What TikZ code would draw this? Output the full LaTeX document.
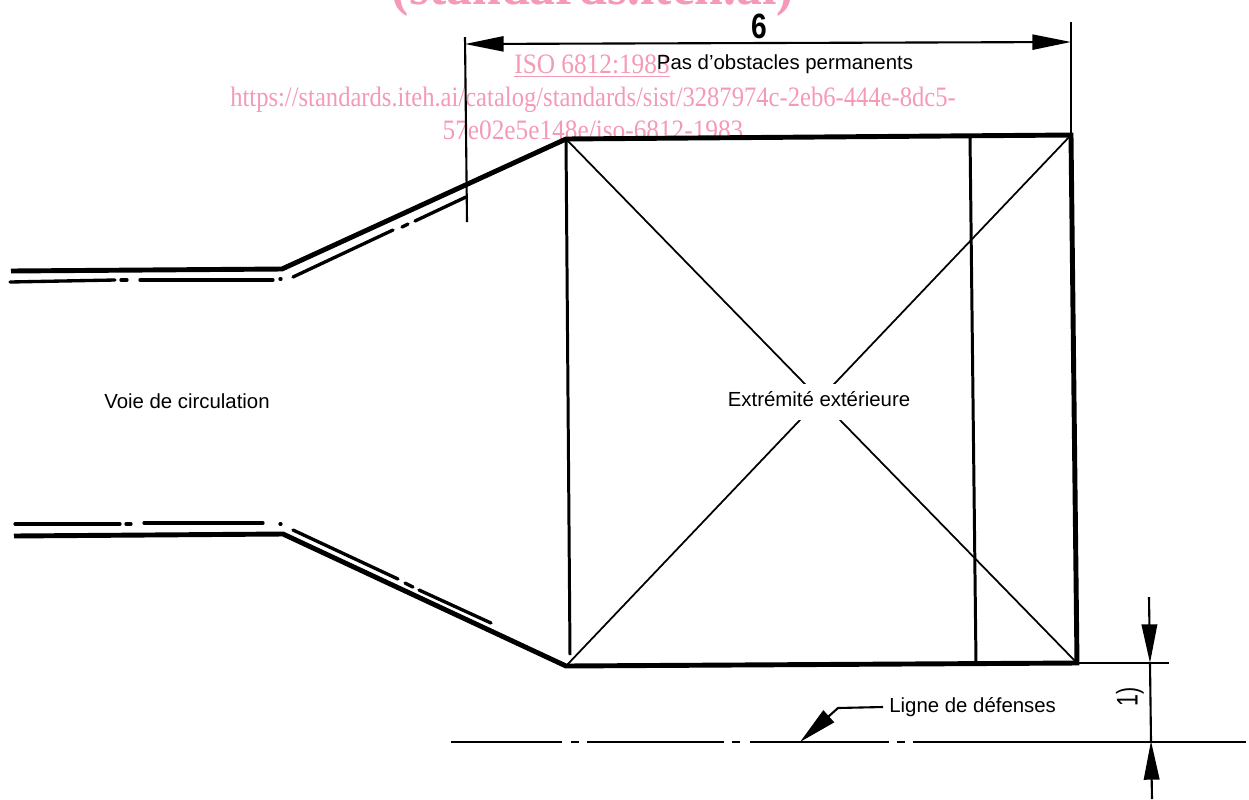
\documentclass[tikz,border=0pt]{standalone}
\usepackage{fontspec}
\setmainfont{Liberation Sans}
\newfontfamily\markfont{Liberation Serif}
\usetikzlibrary{arrows.meta}
\definecolor{markpink}{RGB}{244,154,181}

\begin{document}
\begin{tikzpicture}[x=0.02cm,y=-0.02cm]
      \tikzstyle{heavy}=[line width=2.8pt,line join=miter]
      \tikzstyle{medium}=[line width=1.7pt]
      \tikzstyle{fine}=[line width=1.0pt]
      \tikzstyle{offsetline}=[line width=1.9pt,line cap=round]
      \tikzstyle{axisline}=[line width=1.3pt]
      \tikzstyle{refline}=[line width=1.2pt]
      \tikzstyle{arg}=[inner sep=0pt,font=\fontsize{11.6pt}{13pt}\selectfont]
      \tikzstyle{wmark}=[inner sep=0pt,text=markpink,font=\markfont\fontsize{16pt}{19pt}\selectfont]
      \tikzset{
        dimboth/.style={{Triangle[length=22pt,width=8.6pt]}-{Triangle[length=22pt,width=8.6pt]}},
        dimend/.style={-{Triangle[length=22pt,width=8.8pt]}},
        leader/.style={-{Triangle[length=22pt,width=9pt]}}
      }

      \useasboundingbox (0,0) rectangle (1249,799);
      \clip (0,0) rectangle (1249,799);

      % watermark
      \node[wmark,font=\markfont\bfseries\fontsize{32pt}{38pt}\selectfont,xscale=.92] (wmtitle) at (593,-9) {(standards.iteh.ai)};
      \node[wmark,xscale=.9] (wmiso) at (592,66) {\underline{ISO 6812:1983}};
      \node[wmark,xscale=.875] (wmurl) at (593,100) {https://standards.iteh.ai/catalog/standards/sist/3287974c-2eb6-444e-8dc5-};
      \node[wmark,xscale=.9] (wmiso2) at (593,130) {57e02e5e148e/iso-6812-1983};

      \coordinate (tl0) at (11,271);
      \coordinate (tl1) at (282,269);
      \coordinate (tl2) at (566,139);
      \coordinate (tr) at (1071,135);
      \coordinate (br) at (1077,663);
      \coordinate (bl2) at (566,666);
      \coordinate (bl1) at (283,534);
      \coordinate (bl0) at (14,536);
      \coordinate (m1) at (970,135);
      \coordinate (m2) at (976,663);

      % inner lines
      \path[medium]
      (tl2) edge (570,655)
      (m1) edge (m2);

      \path[fine]
      (tl2) edge (br)
      (bl2) edge (tr);
      \node[arg,fill=white,anchor=base,inner xsep=3pt,inner ysep=4pt,text depth=4pt] (ext) at (819,406) {Extrémité extérieure};

      % outline
      \draw[heavy] (tl0) -- (tl1) -- (tl2) -- (tr) -- (br) -- (bl2) -- (bl1) -- (bl0);

      % offset lines
      \foreach \xa/\ya/\xb/\yb in {
        10/282/115/280, 121/280/127/280, 140/280/273/280, 280/279/281/279,
        293/277/393/230, 402/227/408/224, 415/221/466/197,
        15/524/120/524, 126/524/131/524, 144/523/263/523, 280/524/281/524,
        293/530/398/579, 405/583/413/587, 419/590/491/623}
        \draw[offsetline] (\xa,\ya) -- (\xb,\yb);

      % line of fenders
      \foreach \xa/\xb in {451/562, 571/579, 587/724, 732/740, 750/889, 897/905, 913/1246}
        \draw[axisline] (\xa,742) -- (\xb,742);

      % dimension 6
      \coordinate (d1) at (465,44);
      \coordinate (d2) at (1071,42);
      \path[refline]
      (465,37) edge (467,222)
      (1071,22) edge (tr)
      (br) edge (1169,663);
      \draw[refline,dimboth] (d1) -- (d2);
      \node[arg,font=\bfseries\fontsize{20pt}{22pt}\selectfont,xscale=.8] (six) at (759,26) {6};
      \node[arg] (pas) at (785,64) {Pas d'obstacles permanents};

      % dimension 1)
      \coordinate (e1) at (1150,663);
      \coordinate (e2) at (1151,741);
      \draw[refline,dimend] (1149,597) -- (e1);
      \draw[refline,dimend] (1152,799) -- (e2);
      \draw[refline] (e1) -- (e2);
      \node[arg,font=\fontsize{17pt}{18pt}\selectfont,rotate=90,xscale=.72] (one) at (1130,697) {1)};

      % labels
      \node[arg] (voie) at (187,401) {Voie de circulation};
      \node[arg,anchor=west] (ligne) at (889,707) {Ligne de défenses};
      \coordinate (corner) at (838,708);
      \coordinate (tip) at (800,742);
      \draw[refline,leader] (ligne.west) ++(-6,0) -- (corner) -- (tip);
\end{tikzpicture}
\end{document}
